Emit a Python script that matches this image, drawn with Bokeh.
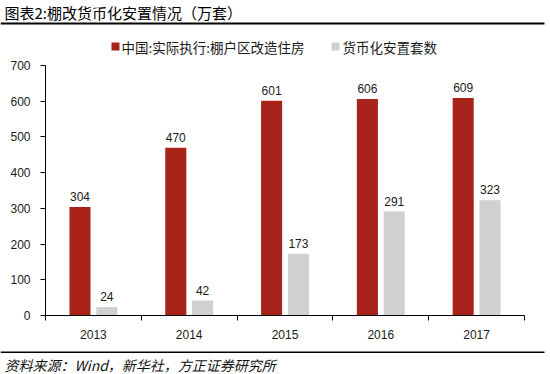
from bokeh.plotting import figure
from bokeh.models import FixedTicker, ColumnDataSource, Range1d
from bokeh.core.properties import value
from bokeh.layouts import column, row
from bokeh.embed import file_html
from bokeh.resources import INLINE

# ---- data ----
years = ["2013", "2014", "2015", "2016", "2017"]
shantytown = [304, 470, 601, 606, 609]
monetized = [24, 42, 173, 291, 323]
yticks = [0, 100, 200, 300, 400, 500, 600, 700]
series_names = ["中国:实际执行:棚户区改造住房", "货币化安置套数"]
title_text = "图表2:棚改货币化安置情况（万套）"
source_text = "资料来源：Wind，新华社，方正证券研究所"

RED = "#A8231A"
GRAY = "#D0D0D0"
TXT = "#1a1a1a"
NUM_FONT = "Liberation Sans"
CJK = "Noto Sans CJK SC"

W = 550
TOP_H = 55          # header strip: title, rule, legend
MAIN_H = 290        # chart
BOT_H = 374 - TOP_H - MAIN_H   # footer strip


def strip(h, y0):
    """A plain figure whose data coordinates equal page pixels."""
    f = figure(width=W, height=h, x_range=Range1d(0, W), y_range=Range1d(y0 + h, y0),
               output_backend="svg", toolbar_location=None,
               min_border_left=0, min_border_right=0, min_border_top=0, min_border_bottom=0)
    f.axis.visible = False
    f.grid.visible = False
    f.outline_line_color = None
    f.background_fill_color = "white"
    f.border_fill_color = "white"
    return f


# ---- header ----
top = strip(TOP_H, 0)
top.text(x=[4], y=[12], text=[title_text], text_font=value(CJK), text_font_size="15px",
         text_color="#000000", text_baseline="middle", text_align="left")
top.quad(left=[0], right=[544], top=[22], bottom=[24], fill_color="#000000", line_color=None)
# legend
top.rect(x=[115, 335], y=[46, 46], width=8, height=8, width_units="screen", height_units="screen",
         fill_color=[RED, GRAY], line_color=None)
top.text(x=[121, 342], y=[46, 46], text=series_names, text_font=value(CJK), text_font_size="13.5px",
         text_color=TXT, text_baseline="middle", text_align="left")

# ---- main chart ----
n = len(years)
centers = [i + 0.5 for i in range(n)]
off, bw = 0.14, 0.22

src = ColumnDataSource(dict(
    xr=[c - off for c in centers],
    xg=[c + off for c in centers],
    red=shantytown,
    gray=monetized,
    tr=[str(v) for v in shantytown],
    tg=[str(v) for v in monetized],
))

p = figure(width=W, height=MAIN_H, x_range=Range1d(0, n), y_range=Range1d(0, 700),
           output_backend="svg", toolbar_location=None,
           min_border_left=45, min_border_right=26, min_border_top=65 - TOP_H,
           min_border_bottom=TOP_H + MAIN_H - 315)
p.outline_line_color = None
p.xgrid.visible = False
p.ygrid.visible = False
p.background_fill_color = "white"
p.border_fill_color = "white"

p.vbar(x="xr", top="red", width=bw, source=src, fill_color=RED, line_color=None)
p.vbar(x="xg", top="gray", width=bw, source=src, fill_color=GRAY, line_color=None)

for col, xcol, ycol in (("tr", "xr", "red"), ("tg", "xg", "gray")):
    p.text(x=xcol, y=ycol, text=col, source=src, text_align="center", text_baseline="bottom",
           y_offset=-6, text_font=value(NUM_FONT), text_font_size="12px", text_color=TXT)

ya = p.yaxis[0]
ya.ticker = FixedTicker(ticks=yticks)
ya.axis_line_color = "#000000"
ya.major_tick_line_color = "#000000"
ya.major_tick_out = 5
ya.major_tick_in = 0
ya.minor_tick_line_color = None
ya.major_label_standoff = 10
ya.major_label_text_font = NUM_FONT
ya.major_label_text_font_size = "12px"
ya.major_label_text_color = TXT

xa = p.xaxis[0]
xa.ticker = FixedTicker(ticks=centers, minor_ticks=list(range(n + 1)))
xa.major_label_overrides = {c: y for c, y in zip(centers, years)}
xa.axis_line_color = "#000000"
xa.major_tick_line_color = None
xa.major_tick_out = 0
xa.major_tick_in = 0
xa.minor_tick_line_color = "#000000"
xa.minor_tick_out = 5
xa.minor_tick_in = 0
xa.major_label_standoff = 9
xa.major_label_text_font = NUM_FONT
xa.major_label_text_font_size = "12px"
xa.major_label_text_color = TXT

# ---- footer ----
bot = strip(BOT_H, TOP_H + MAIN_H)
bot.quad(left=[0], right=[544], top=[351], bottom=[352.5], fill_color="#000000", line_color=None)
bot.text(x=[4], y=[364], text=[source_text], text_font=value(CJK), text_font_size="14px",
         text_font_style="italic", text_color="#111111", text_baseline="middle", text_align="left")

layout = column(row(top), p, row(bot), spacing=0)
open("out.html", "w").write(file_html(layout, INLINE))
